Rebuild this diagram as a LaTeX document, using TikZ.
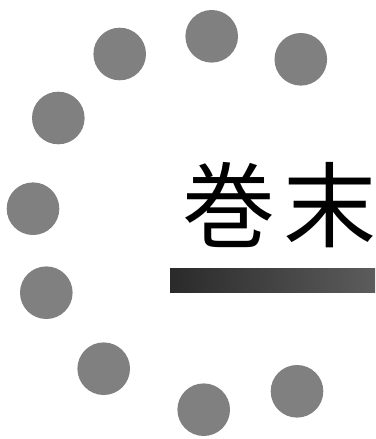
\documentclass[tikz,border=0pt]{standalone}
\usepackage{fontspec}
\newfontfamily\cjk{Noto Sans CJK JP}
\definecolor{dotgray}{HTML}{808080}
\definecolor{barleft}{HTML}{2A2A2A}
\definecolor{barright}{HTML}{5C5C5C}
\begin{document}
\begin{tikzpicture}[x=1pt,y=-1pt,
  dot/.style={fill=dotgray,draw=none},
  glyph/.style={inner sep=0pt,font=\cjk\fontsize{93}{93}\selectfont}]
\useasboundingbox (0,0) rectangle (375,439);
\fill[white] (0,0) rectangle (375,439);
\foreach \n/\x/\y in {a/119.7/54,b/211.7/36.3,c/300.8/59.3,d/58.3/118,e/33/208.7,f/46.3/292.7,g/103.7/368.7,h/203.7/409.7,i/297/391.3}{
  \fill[dot] (\x,\y) circle (26.3);
}
\node[glyph] (maki) at (228.5,205.5) {巻};
\node[glyph] (matsu) at (329.5,205.5) {末};
\shade[left color=barleft,right color=barright] (170,268.3) rectangle (375,292.7);
\end{tikzpicture}
\end{document}
